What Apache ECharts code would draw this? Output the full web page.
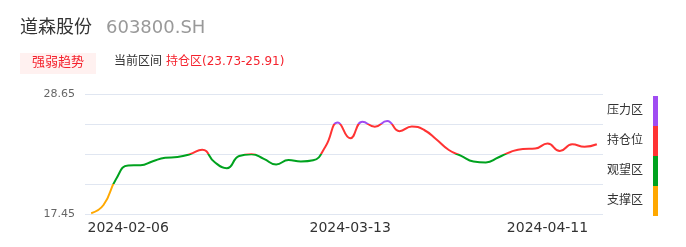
<!DOCTYPE html>
<html>
<head>
<meta charset="utf-8">
<script src="https://cdn.jsdelivr.net/npm/echarts@6/dist/echarts.min.js"></script>
<style>
  html, body { margin: 0; padding: 0; background: #fff; }
  #chart { width: 686px; height: 247px; }
</style>
</head>
<body>
<div id="chart"></div>
<script>
// ---- data ----
const dates = [
  '2024-02-01','2024-02-02','2024-02-05','2024-02-06','2024-02-07','2024-02-08',
  '2024-02-19','2024-02-20','2024-02-21','2024-02-22','2024-02-23','2024-02-26',
  '2024-02-27','2024-02-28','2024-02-29','2024-03-01','2024-03-04','2024-03-05',
  '2024-03-06','2024-03-07','2024-03-08','2024-03-13','2024-03-14','2024-03-15',
  '2024-03-18','2024-03-19','2024-03-20','2024-03-21','2024-03-22','2024-03-25',
  '2024-03-26','2024-03-27','2024-03-28','2024-03-29','2024-04-01','2024-04-02',
  '2024-04-03','2024-04-11','2024-04-12','2024-04-15','2024-04-16','2024-04-17'
];
const prices = [
  17.52, 18.29, 20.67, 21.98, 22.00, 22.38, 22.70, 22.77, 23.02, 23.45,
  22.30, 21.72, 22.86, 23.02, 22.60, 22.07, 22.49, 22.35, 22.46, 23.75,
  25.99, 24.52, 26.06, 25.60, 26.13, 25.18, 25.62, 25.29, 24.40, 23.42,
  22.88, 22.35, 22.26, 22.72, 23.24, 23.52, 23.56, 24.03, 23.33, 23.96,
  23.73, 23.96
];
const xLabelsShown = ['2024-02-06', '2024-03-13', '2024-04-11'];
const yMin = 17.45;
const yMax = 28.65;
const yStep = 2.8;
const yTickLabels = ['17.45', '28.65'];
const zoneBounds = [20.25, 23.05, 25.85];
const zoneNames = ['支撑区', '观望区', '持仓位', '压力区'];
const zoneColors = ['#FFA800', '#00A21E', '#FF3333', '#A04CF2'];
const stockName = '道森股份';
const stockCode = '603800.SH';
const tagText = '强弱趋势';
const rangeLabel = '当前区间';
const rangeText = '持仓区(23.73-25.91)';

// ---- chart ----
const chart = echarts.init(document.getElementById('chart'), null, { renderer: 'canvas' });
const FONT = 'DejaVu Sans, "Noto Sans CJK SC", sans-serif';

const pieces = [
  { lte: zoneBounds[0], color: zoneColors[0], label: zoneNames[0] },
  { gt: zoneBounds[0], lte: zoneBounds[1], color: zoneColors[1], label: zoneNames[1] },
  { gt: zoneBounds[1], lte: zoneBounds[2], color: zoneColors[2], label: zoneNames[2] },
  { gt: zoneBounds[2], color: zoneColors[3], label: zoneNames[3] }
];

const option = {
  animation: false,
  textStyle: { fontFamily: FONT },
  graphic: [
    { type: 'text', left: 20, top: 19, style: { text: stockName, fontSize: 18, fill: '#333', fontFamily: FONT } },
    { type: 'text', left: 106, top: 19, style: { text: stockCode, fontSize: 18, fill: '#999', fontFamily: FONT } },
    { type: 'rect', left: 20, top: 53, shape: { width: 76, height: 21 }, style: { fill: '#FFF1F0' } },
    { type: 'text', left: 32, top: 56, style: { text: tagText, fontSize: 13, fill: '#F5222D', fontFamily: FONT } },
    { type: 'text', left: 114, top: 56, style: { text: rangeLabel, fontSize: 12, fill: '#333', fontFamily: FONT } },
    { type: 'text', left: 166, top: 56, style: { text: rangeText, fontSize: 12, fill: '#F5222D', fontFamily: FONT } }
  ],
  grid: { left: 85, right: 83, top: 94, bottom: 33 },
  xAxis: {
    type: 'category',
    boundaryGap: true,
    data: dates,
    axisLine: { show: false },
    axisTick: { show: false },
    axisLabel: {
      interval: function (idx, val) { return xLabelsShown.indexOf(val) >= 0; },
      fontSize: 14,
      color: '#333',
      margin: 7,
      fontFamily: FONT
    },
    splitLine: { show: false }
  },
  yAxis: {
    type: 'value',
    min: yMin,
    max: yMax,
    interval: yStep,
    axisLine: { show: false },
    axisTick: { show: false },
    axisLabel: {
      fontSize: 11,
      color: '#666',
      margin: 10,
      fontFamily: FONT,
      formatter: function (v) {
        for (const t of yTickLabels) {
          if (Math.abs(v - parseFloat(t)) < 1e-6) return t;
        }
        return '';
      }
    },
    splitLine: { show: true, lineStyle: { color: '#E0E6F1', width: 1 } }
  },
  visualMap: {
    type: 'piecewise',
    show: true,
    dimension: 1,
    seriesIndex: 0,
    pieces: pieces,
    orient: 'vertical',
    right: 28,
    top: 96,
    padding: 0,
    itemWidth: 5,
    itemHeight: 30,
    itemGap: 0,
    itemSymbol: 'rect',
    align: 'right',
    textGap: 10,
    selectedMode: false,
    hoverLink: false,
    textStyle: { color: '#333', fontSize: 12, fontFamily: FONT }
  },
  series: [{
    type: 'line',
    data: dates.map((d, i) => [d, prices[i]]),
    smooth: true,
    showSymbol: false,
    symbol: 'none',
    lineStyle: { width: 2 }
  }]
};
chart.setOption(option);
</script>
</body>
</html>
